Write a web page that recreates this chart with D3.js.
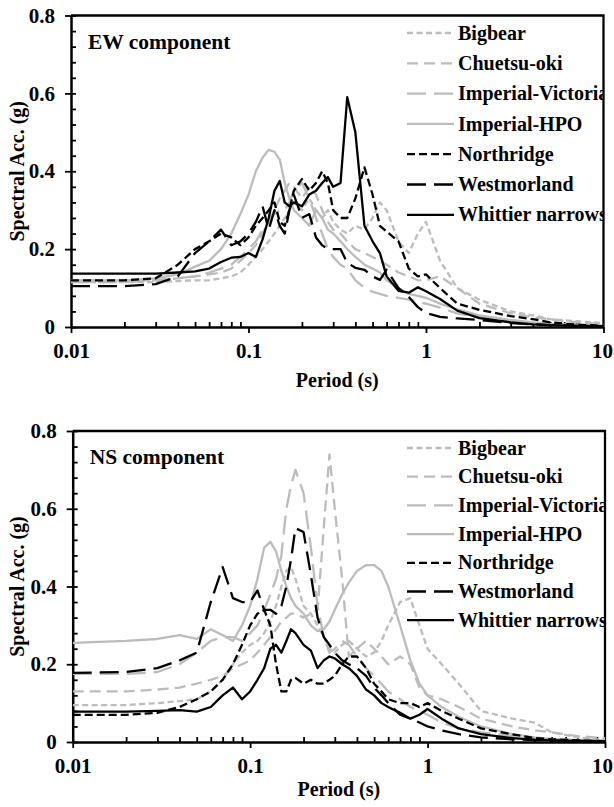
<!DOCTYPE html>
<html>
<head>
<meta charset="utf-8">
<script src="https://cdn.jsdelivr.net/npm/d3@7"></script>
<style>
body{margin:0;background:#fff}
text{font-family:"Liberation Serif","Times New Roman",serif;font-weight:bold;fill:#000}
</style>
</head>
<body>
<svg id="chart" width="614" height="807"></svg>
<script>
// periods (s), shared by every spectrum
const periods=[0.01,0.02,0.03,0.04,0.05,0.06,0.07,0.08,0.09,
  0.1,0.11,0.12,0.13,0.14,0.15,0.16,0.17,0.18,
  0.2,0.22,0.24,0.26,0.28,0.3,0.33,0.36,0.4,0.45,0.5,0.55,
  0.6,0.7,0.8,0.9,1,1.2,1.5,2,3,4,5,7,10]

const recordNames=["Bigbear","Chuetsu-oki","Imperial-Victoria","Imperial-HPO","Northridge","Westmorland","Whittier narrows"]

// EW component, spectral acc. (g)
const ewBigbear=[0.115,0.115,0.115,0.118,0.12,0.12,0.125,0.13,0.14,
  0.16,0.18,0.2,0.22,0.24,0.26,0.28,0.3,0.32,
  0.3,0.33,0.3,0.28,0.3,0.27,0.25,0.24,0.26,0.25,0.28,0.32,
  0.3,0.22,0.19,0.24,0.27,0.17,0.1,0.07,0.04,0.03,0.02,0.015,0.01]
const ewChuetsu=[0.12,0.12,0.12,0.125,0.13,0.135,0.14,0.15,0.17,
  0.19,0.21,0.24,0.27,0.3,0.33,0.35,0.37,0.36,
  0.33,0.36,0.34,0.3,0.27,0.25,0.24,0.22,0.2,0.19,0.18,0.17,
  0.16,0.14,0.13,0.12,0.12,0.13,0.1,0.06,0.035,0.025,0.02,0.012,0.008]
const ewVictoria=[0.115,0.115,0.12,0.125,0.13,0.14,0.15,0.16,0.18,
  0.2,0.22,0.25,0.27,0.29,0.3,0.3,0.32,0.35,
  0.37,0.33,0.28,0.24,0.2,0.18,0.16,0.15,0.12,0.1,0.09,0.085,
  0.08,0.075,0.07,0.065,0.06,0.05,0.035,0.025,0.015,0.01,0.008,0.005,0.003]
const ewHPO=[0.12,0.12,0.125,0.135,0.155,0.17,0.2,0.24,0.29,
  0.34,0.4,0.435,0.455,0.45,0.43,0.37,0.33,0.3,
  0.28,0.26,0.3,0.28,0.25,0.24,0.22,0.2,0.18,0.16,0.15,0.14,
  0.12,0.1,0.085,0.08,0.075,0.06,0.045,0.03,0.018,0.012,0.008,0.005,0.003]
const ewNorthridge=[0.12,0.12,0.125,0.16,0.2,0.22,0.24,0.23,0.21,
  0.23,0.26,0.28,0.3,0.32,0.27,0.26,0.3,0.35,
  0.38,0.35,0.37,0.4,0.37,0.3,0.28,0.28,0.33,0.41,0.34,0.26,
  0.245,0.22,0.15,0.13,0.135,0.1,0.06,0.044,0.028,0.02,0.012,0.006,0.003]
const ewWestmorland=[0.105,0.105,0.11,0.13,0.19,0.22,0.25,0.21,0.22,
  0.24,0.27,0.31,0.25,0.3,0.26,0.24,0.3,0.34,
  0.28,0.29,0.23,0.21,0.2,0.2,0.2,0.165,0.152,0.147,0.13,0.121,
  0.147,0.1,0.077,0.051,0.036,0.026,0.022,0.018,0.01,0.007,0.005,0.003,0.002]
const ewWhittier=[0.137,0.137,0.137,0.14,0.143,0.15,0.167,0.178,0.18,
  0.19,0.18,0.225,0.28,0.35,0.375,0.32,0.31,0.32,
  0.31,0.34,0.35,0.37,0.385,0.36,0.37,0.59,0.5,0.26,0.22,0.19,
  0.13,0.093,0.088,0.102,0.092,0.072,0.042,0.023,0.012,0.007,0.005,0.003,0.002]

// NS component, spectral acc. (g)
const nsBigbear=[0.095,0.095,0.1,0.105,0.11,0.13,0.16,0.2,0.23,
  0.25,0.26,0.28,0.31,0.35,0.4,0.44,0.45,0.42,
  0.35,0.33,0.3,0.27,0.24,0.23,0.25,0.26,0.24,0.22,0.23,0.26,
  0.3,0.36,0.37,0.3,0.24,0.2,0.15,0.08,0.06,0.05,0.025,0.012,0.005]
const nsChuetsu=[0.13,0.13,0.135,0.14,0.15,0.16,0.17,0.19,0.2,
  0.21,0.23,0.25,0.27,0.29,0.31,0.32,0.33,0.33,
  0.32,0.33,0.34,0.55,0.74,0.6,0.42,0.22,0.24,0.26,0.24,0.22,
  0.2,0.22,0.2,0.14,0.12,0.11,0.09,0.06,0.04,0.03,0.025,0.015,0.01]
const nsVictoria=[0.175,0.175,0.18,0.2,0.23,0.26,0.27,0.27,0.26,
  0.28,0.3,0.34,0.38,0.42,0.48,0.6,0.66,0.7,
  0.64,0.5,0.35,0.27,0.23,0.24,0.26,0.25,0.22,0.19,0.17,0.15,
  0.13,0.11,0.09,0.08,0.07,0.05,0.035,0.025,0.015,0.01,0.007,0.005,0.003]
const nsHPO=[0.255,0.26,0.265,0.275,0.265,0.29,0.275,0.26,0.3,
  0.35,0.42,0.5,0.515,0.49,0.44,0.4,0.37,0.35,
  0.33,0.3,0.285,0.29,0.31,0.34,0.38,0.41,0.44,0.455,0.455,0.44,
  0.4,0.3,0.21,0.15,0.12,0.09,0.065,0.04,0.02,0.012,0.008,0.005,0.003]
const nsNorthridge=[0.07,0.07,0.075,0.09,0.11,0.13,0.16,0.2,0.25,
  0.3,0.33,0.34,0.3,0.2,0.13,0.13,0.16,0.165,
  0.15,0.16,0.15,0.15,0.16,0.17,0.2,0.22,0.22,0.19,0.15,0.13,
  0.11,0.1,0.1,0.09,0.1,0.08,0.06,0.035,0.02,0.01,0.007,0.004,0.002]
const nsWestmorland=[0.178,0.18,0.19,0.21,0.23,0.36,0.45,0.37,0.36,
  0.36,0.39,0.34,0.34,0.33,0.35,0.4,0.47,0.55,
  0.54,0.43,0.32,0.27,0.25,0.23,0.21,0.2,0.19,0.17,0.14,0.12,
  0.1,0.07,0.06,0.05,0.04,0.03,0.02,0.012,0.007,0.005,0.004,0.003,0.002]
const nsWhittier=[0.078,0.078,0.08,0.082,0.078,0.09,0.12,0.14,0.11,
  0.13,0.16,0.19,0.24,0.25,0.23,0.26,0.29,0.28,
  0.25,0.235,0.19,0.21,0.22,0.215,0.2,0.19,0.17,0.135,0.12,0.1,
  0.09,0.075,0.06,0.07,0.085,0.06,0.035,0.02,0.01,0.006,0.004,0.003,0.002]

const xTicks=[0.01,0.1,1,10]
const yTicks=[0,0.2,0.4,0.6,0.8]

// line look for each record, same order as recordNames
const grey="#bcbcbc"
const styles=[
  {color:grey,dash:"6,3.5"},
  {color:grey,dash:"11,6"},
  {color:grey,dash:"19,8"},
  {color:grey,dash:null},
  {color:"#000",dash:"8,4"},
  {color:"#000",dash:"19,8"},
  {color:"#000",dash:null}
]

const svg=d3.select("#chart")

function drawPanel(cfg,values,title){
  const x=d3.scaleLog().domain([0.01,10]).range([cfg.left,cfg.right])
  const y=d3.scaleLinear().domain([0,0.8]).range([cfg.bottom,cfg.top])
  const g=svg.append("g")

  //minor ticks, pointing into the plot
  let xMinor=[]
  for(let e=-2;e<1;e++) for(let m=2;m<10;m++) xMinor.push(m*Math.pow(10,e))
  let yMinor=d3.range(0,0.801,0.04)

  g.append("g").attr("transform","translate(0,"+cfg.bottom+")")
    .call(d3.axisTop(x).tickValues(xMinor).tickSize(5).tickFormat(""))
    .call(a=>a.select(".domain").remove())
  g.append("g").attr("transform","translate("+cfg.left+",0)")
    .call(d3.axisRight(y).tickValues(yMinor).tickSize(5).tickFormat(""))
    .call(a=>a.select(".domain").remove())

  const xAxis=g.append("g").attr("transform","translate(0,"+cfg.bottom+")")
    .call(d3.axisBottom(x).tickValues(xTicks).tickSize(6).tickSizeOuter(0).tickPadding(10).tickFormat(d=>String(d)))
  g.append("g").attr("transform","translate("+cfg.left+",0)")
    .call(d3.axisLeft(y).tickValues(yTicks).tickSize(6).tickSizeOuter(0).tickPadding(10).tickFormat(d=>d===0?"0":d.toFixed(1)))
  g.selectAll(".tick line").attr("stroke","#000").attr("stroke-width",1.8)
  g.selectAll(".domain").attr("stroke","#000").attr("stroke-width",2.5)
  g.selectAll(".tick text").style("font-size","21px").style("font-family",'"Liberation Serif","Times New Roman",serif').style("font-weight","bold")
  //keep the "10" inside the page
  xAxis.selectAll(".tick text").filter(d=>d===10).attr("dx",-Math.max(0,x(10)+11-613))

  //frame top and right
  g.append("path").attr("d","M"+cfg.left+","+cfg.top+"H"+cfg.right+"V"+cfg.bottom)
    .attr("fill","none").attr("stroke","#000").attr("stroke-width",2.3)

  const clipId="clip"+cfg.id
  svg.append("clipPath").attr("id",clipId).append("rect")
    .attr("x",cfg.left).attr("y",cfg.top-2).attr("width",cfg.right-cfg.left).attr("height",cfg.bottom-cfg.top+2)

  const line=d3.line().x(d=>x(d[0])).y(d=>y(d[1]))
  const lines=g.append("g").attr("clip-path","url(#"+clipId+")")
  values.forEach((vals,i)=>{
    lines.append("path").datum(periods.map((p,j)=>[p,vals[j]]))
      .attr("d",line).attr("fill","none")
      .attr("stroke",styles[i].color).attr("stroke-width",2.3)
      .attr("stroke-dasharray",styles[i].dash)
      .attr("stroke-linejoin","round")
  })

  //legend, cut by the right frame like the original
  const leg=g.append("g").attr("clip-path","url(#"+clipId+")")
  recordNames.forEach((name,i)=>{
    let ly=cfg.legTop+i*cfg.legStep
    leg.append("line").attr("x1",407).attr("x2",454).attr("y1",ly).attr("y2",ly)
      .attr("stroke",styles[i].color).attr("stroke-width",2.3).attr("stroke-dasharray",styles[i].dash)
    leg.append("text").attr("x",458).attr("y",ly).attr("dy","0.33em").style("font-size","20px").text(name)
  })

  g.append("text").attr("x",cfg.left+17).attr("y",cfg.top+33).style("font-size","21.5px").text(title)

  g.append("text").attr("text-anchor","middle").attr("x",(cfg.left+cfg.right)/2).attr("y",cfg.bottom+cfg.labelGap)
    .style("font-size","20px").text("Period (s)")
  g.append("text").attr("text-anchor","middle")
    .attr("transform","translate(24,"+((cfg.top+cfg.bottom)/2)+") rotate(-90)")
    .style("font-size","20px").text("Spectral Acc. (g)")
}

drawPanel({id:1,left:71,right:603.5,top:15.5,bottom:327,legTop:33,legStep:30.3,labelGap:60},
  [ewBigbear,ewChuetsu,ewVictoria,ewHPO,ewNorthridge,ewWestmorland,ewWhittier],"EW component")
drawPanel({id:2,left:72.7,right:605,top:431,bottom:742,legTop:448,legStep:28.7,labelGap:54},
  [nsBigbear,nsChuetsu,nsVictoria,nsHPO,nsNorthridge,nsWestmorland,nsWhittier],"NS component")
</script>
</body>
</html>
